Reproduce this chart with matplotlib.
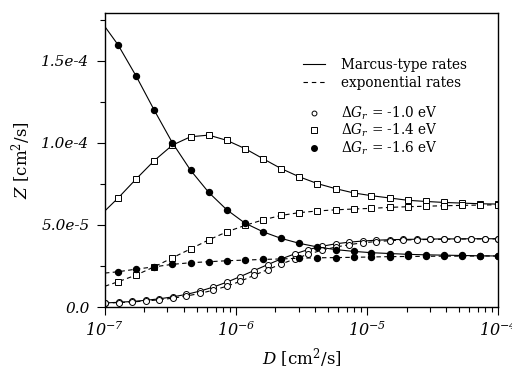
import numpy as np
import matplotlib
matplotlib.use("Agg")
import matplotlib.pyplot as plt
from matplotlib.lines import Line2D
from matplotlib.ticker import FixedLocator, FixedFormatter, LogLocator, NullFormatter

plt.rcParams["font.family"] = "DejaVu Serif"
plt.rcParams["mathtext.fontset"] = "custom"
plt.rcParams["mathtext.rm"] = "DejaVu Serif"
plt.rcParams["mathtext.it"] = "DejaVu Serif:italic"
plt.rcParams["mathtext.bf"] = "DejaVu Serif:bold"

# D grid for squares / filled dots (first point has no marker)
D_a = [1.0e-7, 1.26e-7, 1.73e-7, 2.38e-7, 3.27e-7, 4.50e-7, 6.19e-7, 8.51e-7,
       1.17e-6, 1.61e-6, 2.21e-6, 3.04e-6, 4.17e-6, 5.74e-6, 7.89e-6,
       1.08e-5, 1.49e-5, 2.05e-5, 2.81e-5, 3.87e-5, 5.32e-5, 7.31e-5, 1.0e-4]

# D grid for open circles
D_b = [1.0e-7, 1.27e-7, 1.61e-7, 2.04e-7, 2.59e-7, 3.29e-7, 4.17e-7, 5.30e-7,
       6.72e-7, 8.53e-7, 1.08e-6, 1.37e-6, 1.74e-6, 2.21e-6, 2.81e-6, 3.56e-6,
       4.52e-6, 5.74e-6, 7.28e-6, 9.24e-6, 1.17e-5, 1.49e-5, 1.89e-5, 2.40e-5,
       3.04e-5, 3.86e-5, 4.89e-5, 6.21e-5, 7.88e-5, 1.0e-4]

# dG = -1.0 eV (units of 1e-5)
z10_marcus = [0.25, 0.29, 0.34, 0.41, 0.50, 0.62, 0.77, 0.97, 1.22, 1.52,
              1.86, 2.22, 2.58, 2.93, 3.24, 3.50, 3.70, 3.85, 3.95, 4.02,
              4.07, 4.10, 4.12, 4.13, 4.14, 4.15, 4.15, 4.16, 4.16, 4.16]
z10_exp = [0.24, 0.27, 0.31, 0.37, 0.44, 0.54, 0.67, 0.83, 1.03, 1.27,
           1.57, 1.93, 2.28, 2.62, 2.93, 3.22, 3.46, 3.65, 3.80, 3.91,
           3.99, 4.04, 4.08, 4.10, 4.12, 4.13, 4.14, 4.15, 4.15, 4.15]

# dG = -1.4 eV
z14_marcus = [5.86, 6.64, 7.80, 8.92, 9.86, 10.37, 10.47, 10.15, 9.65, 9.03,
              8.43, 7.93, 7.52, 7.21, 6.95, 6.78, 6.64, 6.50, 6.43, 6.37,
              6.33, 6.29, 6.27]
z14_exp = [1.27, 1.54, 1.95, 2.45, 3.00, 3.54, 4.09, 4.58, 4.97, 5.31,
           5.58, 5.75, 5.85, 5.92, 5.97, 6.01, 6.07, 6.11, 6.14, 6.17,
           6.19, 6.21, 6.23]

# dG = -1.6 eV
z16_marcus = [17.07, 15.96, 14.06, 11.98, 10.00, 8.33, 6.98, 5.92, 5.11,
              4.58, 4.18, 3.88, 3.66, 3.50, 3.39, 3.31, 3.26, 3.21, 3.18,
              3.16, 3.14, 3.12, 3.11]
z16_exp = [2.07, 2.15, 2.31, 2.45, 2.60, 2.70, 2.76, 2.82, 2.86, 2.90,
           2.93, 2.97, 3.00, 3.01, 3.03, 3.05, 3.07, 3.08, 3.09, 3.10,
           3.10, 3.11, 3.11]

y_ticks = [0.0, 5.0e-5, 1.0e-4, 1.5e-4]
y_ticklabels = ["0.0", "5.0e-5", "1.0e-4", "1.5e-4"]
x_ticks = [1e-7, 1e-6, 1e-5, 1e-4]
x_ticklabels = [r"$\mathdefault{10^{-7}}$", r"$\mathdefault{10^{-6}}$",
                r"$\mathdefault{10^{-5}}$", r"$\mathdefault{10^{-4}}$"]

fig = plt.figure(figsize=(5.12, 3.74), dpi=100)
ax = fig.add_axes([0.205, 0.179, 0.768, 0.786])

lw = 0.8
ms = 4.3
def scale(v):
    return np.array(v) * 1e-5

# circles
ax.plot(D_b, scale(z10_marcus), "-", color="black", lw=lw, marker="o", ms=ms,
        mfc="white", mec="black", mew=0.7)
ax.plot(D_b, scale(z10_exp), "--", color="black", lw=lw, marker="o", ms=ms,
        mfc="white", mec="black", mew=0.7, dashes=(4, 3))
# squares
ax.plot(D_a, scale(z14_marcus), "-", color="black", lw=lw, marker="s", ms=ms - 0.3,
        mfc="white", mec="black", mew=0.7, markevery=slice(1, None))
ax.plot(D_a, scale(z14_exp), "--", color="black", lw=lw, marker="s", ms=ms - 0.3,
        mfc="white", mec="black", mew=0.7, markevery=slice(1, None), dashes=(4, 3))
# filled dots
ax.plot(D_a, scale(z16_marcus), "-", color="black", lw=lw, marker="o", ms=ms,
        mfc="black", mec="black", markevery=slice(1, None))
ax.plot(D_a, scale(z16_exp), "--", color="black", lw=lw, marker="o", ms=ms,
        mfc="black", mec="black", markevery=slice(1, None), dashes=(4, 3))

ax.set_xscale("log")
ax.set_xlim(1e-7, 1e-4)
ax.set_ylim(0, 1.79e-4)

ax.xaxis.set_major_locator(FixedLocator(x_ticks))
ax.xaxis.set_major_formatter(FixedFormatter(x_ticklabels))
ax.xaxis.set_minor_locator(LogLocator(base=10, subs=np.arange(2, 10)))
ax.xaxis.set_minor_formatter(NullFormatter())
ax.yaxis.set_major_locator(FixedLocator(y_ticks))
ax.yaxis.set_major_formatter(FixedFormatter(y_ticklabels))
ax.yaxis.set_minor_locator(FixedLocator([2.5e-5, 7.5e-5, 1.25e-4, 1.75e-4]))

ax.tick_params(which="both", direction="out", top=False, right=False, width=0.8)
ax.tick_params(which="major", length=6, labelsize=11, pad=5)
ax.tick_params(axis="x", which="major", labelsize=11.5, pad=4)
ax.tick_params(which="minor", length=3.5)
for lab in ax.get_yticklabels() + ax.get_xticklabels():
    lab.set_fontstyle("italic")
for sp in ax.spines.values():
    sp.set_linewidth(1.0)

ax.set_xlabel(r"$D$ [cm$^2$/s]", fontsize=12, labelpad=4)
ax.set_ylabel(r"$Z$ [cm$^2$/s]", fontsize=12, labelpad=6)

h_lines = [Line2D([], [], color="black", lw=lw),
           Line2D([], [], color="black", lw=lw, ls="--", dashes=(4, 3.5))]
leg1 = ax.legend(h_lines, ["Marcus-type rates", "exponential rates"],
                 loc="upper left", bbox_to_anchor=(0.49, 0.866), frameon=False,
                 fontsize=9.8, handlelength=1.6, handletextpad=1.2,
                 labelspacing=0.3, borderaxespad=0)
ax.add_artist(leg1)
h_marks = [Line2D([], [], ls="none", marker="o", ms=3.5, mfc="white", mec="black", mew=0.7),
           Line2D([], [], ls="none", marker="s", ms=3.8, mfc="white", mec="black", mew=0.7),
           Line2D([], [], ls="none", marker="o", ms=4, mfc="black", mec="black")]
labels_marks = [r"$\Delta G_r$ = -$\mathit{1.0}$ eV",
                r"$\Delta G_r$ = -$\mathit{1.4}$ eV",
                r"$\Delta G_r$ = -$\mathit{1.6}$ eV"]
ax.legend(h_marks, labels_marks, loc="upper left", bbox_to_anchor=(0.49, 0.708),
          frameon=False, fontsize=9.8, handlelength=1.6, handletextpad=1.2,
          labelspacing=0.02, borderaxespad=0)

fig.savefig("out.png", dpi=100)
